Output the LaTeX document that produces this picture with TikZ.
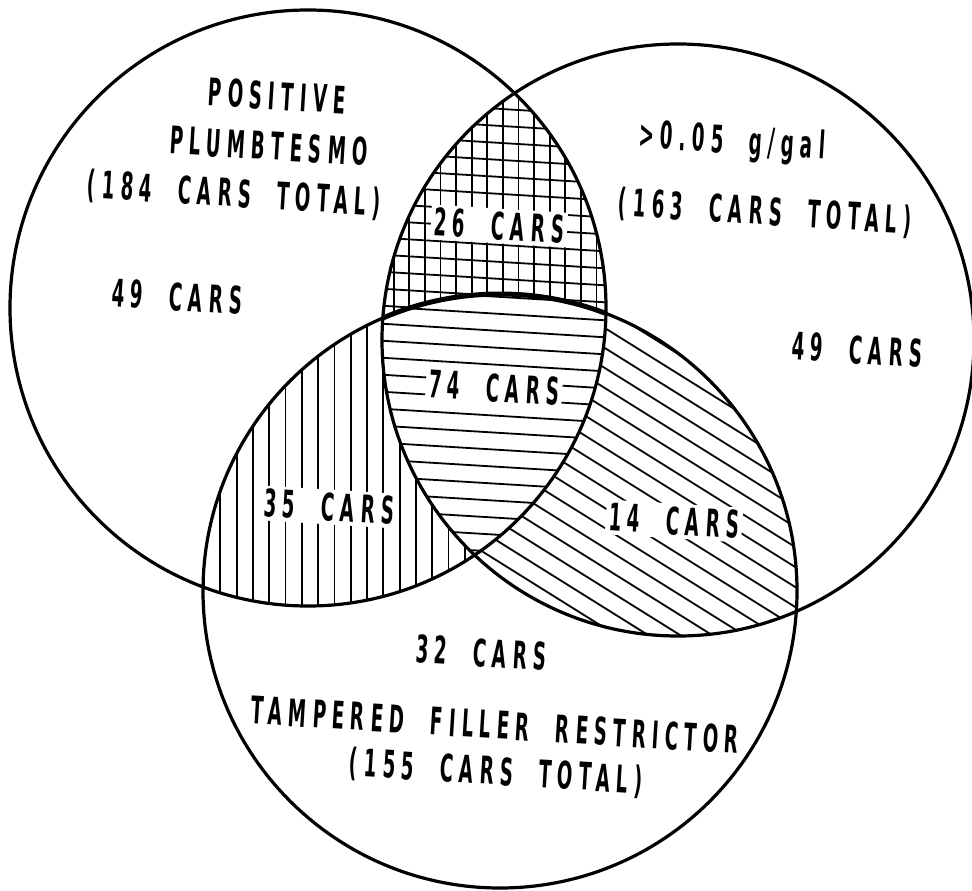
\documentclass[tikz,border=0pt]{standalone}
\usepackage{fontspec}
\newfontfamily\lbl{DejaVu Sans}[FakeStretch=0.48,LetterSpace=16,WordSpace=2.1]
\begin{document}
\begin{tikzpicture}[x=1pt,y=-1pt,
  lab/.style={font=\lbl\bfseries\fontsize{38}{40}\selectfont, inner sep=3pt, rotate=-3.5},
  mask/.style={lab, fill=white},
  ring/.style={line width=3.2pt},
  hatch/.style={line width=1.8pt}]
\useasboundingbox (0,0) rectangle (972,891);
\coordinate (cA) at (308,308);
\coordinate (cB) at (678,340);
\coordinate (cC) at (500,591);
\tikzset{
  circA/.style={insert path={(cA) circle[radius=298pt]}},
  circB/.style={insert path={(cB) circle[radius=296pt]}},
  circC/.style={insert path={(cC) circle[radius=297pt]}}}
% A and B: cross hatching
\begin{scope}
  \clip[circA]; \clip[circB];
  \foreach \x in {378,393.6,...,625} \draw[hatch] (\x,80) -- (\x,345);
  \foreach \y in {84,101,...,340} \draw[hatch] (370,\y) -- (625,\y+15.5);
\end{scope}
% A and C: vertical hatching
\begin{scope}
  \clip[circA]; \clip[circC];
  \foreach \x in {204,220.3,...,485} \draw[hatch] (\x,285) -- (\x,605);
\end{scope}
% B and C: diagonal hatching
\begin{scope}
  \clip[circB]; \clip[circC];
  \foreach \c in {-210,-190,...,390} \draw[hatch] (370,231.25+\c) -- (820,512.5+\c);
\end{scope}
% A, B and C: horizontal hatching
\begin{scope}
  \clip[circA]; \clip[circB]; \clip[circC];
  \fill[white] (360,280) rectangle (630,580);
  \foreach \y in {289,306,...,575} \draw[hatch] (370,\y) -- (625,\y+15.5);
\end{scope}
% thick top arc of C inside A and B
\begin{scope}
  \clip[circA]; \clip[circB];
  \draw[line width=5pt] (cC) circle[radius=297pt];
\end{scope}
% labels
\node[lab] (posA) at (277,96) {POSITIVE};
\node[lab] (posB) at (269,146) {PLUMBTESMO};
\node[lab] (posC) at (234,195) {(184 CARS TOTAL)};
\node[lab] (onlyA) at (177,297) {49 CARS};
\node[mask] (ab) at (499,226) {26 CARS};
\node[lab] (gB) at (732,143) {>0.05 g/gal};
\node[lab] (gC) at (765,213) {(163 CARS TOTAL)};
\node[lab] (onlyB) at (857,350) {49 CARS};
\node[mask] (abc) at (494,388) {74 CARS};
\node[mask] (ac) at (329,507) {35 CARS};
\node[mask] (bc) at (674,521) {14 CARS};
\node[lab] (onlyC) at (481,653) {32 CARS};
\node[lab] (tB) at (495,725) {TAMPERED FILLER RESTRICTOR};
\node[lab] (tC) at (496,773) {(155 CARS TOTAL)};
% circles
\draw[ring, circA];
\draw[ring, circB];
\draw[ring, circC];
\end{tikzpicture}
\end{document}
